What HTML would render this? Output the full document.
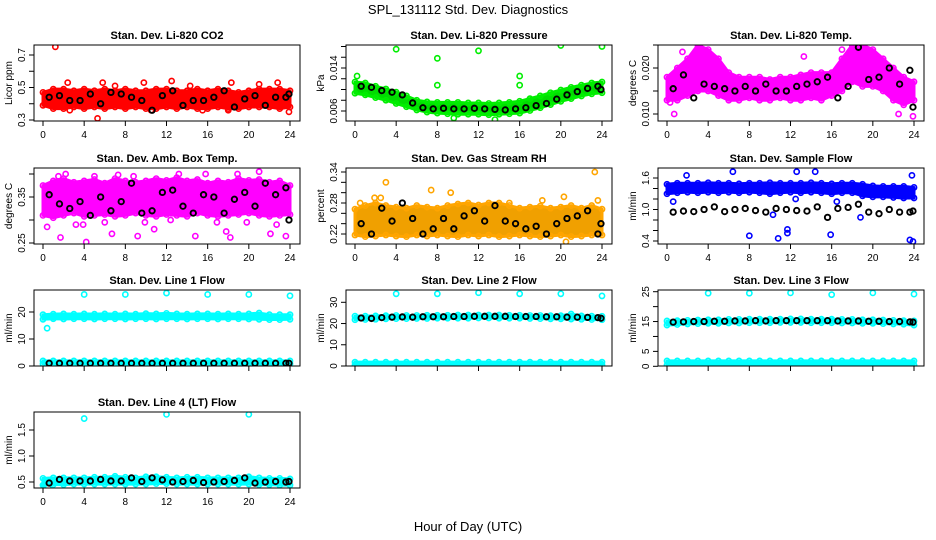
<!DOCTYPE html>
<html><head><meta charset="utf-8"><style>
html,body{margin:0;padding:0;background:#fff;}
svg{display:block;font-family:"Liberation Sans",Arial,sans-serif;}
</style></head><body>
<svg id="chart" width="936" height="540" viewBox="0 0 936 540">
<text x="468" y="14" text-anchor="middle" font-size="13">SPL_131112  Std. Dev. Diagnostics</text>
<text x="468" y="531" text-anchor="middle" font-size="13">Hour of Day (UTC)</text>
</svg>
<script>
// ---- shared data ----
const bandHours = [0,1,2,3,4,5,6,7,8,9,10,11,12,13,14,15,16,17,18,19,20,21,22,23,24];
const blackHours = [0.6,1.6,2.6,3.6,4.6,5.6,6.6,7.6,8.6,9.6,10.6,11.6,12.6,13.6,14.6,15.6,16.6,17.6,18.6,19.6,20.6,21.6,22.6,23.6,23.9];
const xTicks = [0,4,8,12,16,20,24];

// CO2
const co2Lo = [0.39,0.37,0.37,0.38,0.37,0.38,0.37,0.38,0.37,0.38,0.37,0.37,0.38,0.37,0.38,0.37,0.37,0.38,0.37,0.37,0.38,0.38,0.38,0.37,0.38];
const co2Hi = [0.47,0.49,0.49,0.48,0.49,0.48,0.49,0.48,0.49,0.48,0.48,0.49,0.49,0.48,0.48,0.49,0.48,0.49,0.48,0.47,0.48,0.49,0.49,0.49,0.48];
const co2Black = [0.44,0.45,0.42,0.42,0.46,0.40,0.47,0.46,0.44,0.42,0.36,0.45,0.48,0.39,0.42,0.42,0.44,0.48,0.38,0.43,0.45,0.39,0.44,0.44,0.46];
const co2Out = [[1.2,0.75],[5.3,0.31],[23.9,0.35],[12.5,0.54],[2.4,0.53],[5.8,0.53],[9.8,0.53],[18.3,0.53],[22.8,0.53],[2.6,0.36],[10.5,0.36],[15.5,0.36],[18,0.36],[7,0.51],[14.3,0.51],[21,0.52]];
// Pressure
const presLo = [0.0093,0.0090,0.0085,0.0080,0.0074,0.0068,0.0062,0.0058,0.0056,0.0055,0.0054,0.0054,0.0054,0.0053,0.0054,0.0055,0.0056,0.0061,0.0066,0.0072,0.0078,0.0083,0.0088,0.0092,0.0094];
const presHi = [0.0114,0.0112,0.0106,0.0101,0.0095,0.0088,0.0080,0.0077,0.0076,0.0076,0.0076,0.0075,0.0075,0.0074,0.0075,0.0076,0.0078,0.0083,0.0088,0.0094,0.0099,0.0104,0.0108,0.0112,0.0114];
const presBlack = [0.0106,0.0104,0.0098,0.0095,0.0090,0.0075,0.0066,0.0064,0.0065,0.0064,0.0064,0.0065,0.0064,0.0063,0.0062,0.0064,0.0066,0.0070,0.0074,0.0082,0.0090,0.0096,0.0102,0.0106,0.0100];
const presOut = [[0.2,0.0125],[4,0.0175],[8,0.0158],[12,0.0172],[16,0.0125],[20,0.0182],[24,0.0180],[8,0.0108],[16,0.0108],[9.6,0.0047],[13.6,0.0044]];
// Li-820 Temp
const tempLo = [0.013,0.013,0.014,0.015,0.015,0.014,0.013,0.013,0.0135,0.013,0.013,0.0135,0.013,0.013,0.0135,0.013,0.014,0.015,0.017,0.016,0.016,0.015,0.013,0.012,0.013];
const tempHi = [0.018,0.020,0.022,0.025,0.024,0.022,0.019,0.018,0.018,0.018,0.0175,0.018,0.018,0.0185,0.019,0.019,0.019,0.022,0.025,0.025,0.024,0.022,0.020,0.018,0.017];
const tempBlack = [0.0155,0.0185,0.0135,0.0165,0.0160,0.0155,0.0150,0.0160,0.0150,0.0165,0.0150,0.0150,0.0160,0.0165,0.0170,0.0180,0.0135,0.0160,0.0245,0.0175,0.0180,0.0200,0.0165,0.0195,0.0115];
const tempOut = [[0.7,0.0100],[23.9,0.0095],[0.3,0.0125],[22.5,0.0100],[1.5,0.0235],[13.3,0.0225],[17,0.0240]];
// Amb Box Temp
const ambLo = [0.31,0.305,0.31,0.315,0.308,0.31,0.312,0.308,0.31,0.315,0.31,0.308,0.312,0.31,0.308,0.315,0.31,0.308,0.31,0.312,0.315,0.31,0.308,0.31,0.312];
const ambHi = [0.375,0.385,0.39,0.382,0.385,0.388,0.38,0.39,0.385,0.382,0.385,0.39,0.386,0.392,0.385,0.388,0.38,0.385,0.382,0.39,0.386,0.388,0.382,0.385,0.375];
const ambBlack = [0.355,0.335,0.325,0.34,0.31,0.35,0.32,0.34,0.38,0.315,0.32,0.36,0.365,0.33,0.315,0.355,0.35,0.315,0.345,0.36,0.33,0.38,0.355,0.37,0.30];
const ambOut = [[0.4,0.285],[1.7,0.262],[4.2,0.252],[6.7,0.27],[9.2,0.265],[14.8,0.265],[17.8,0.275],[18.2,0.262],[22.1,0.27],[23.6,0.265],[1.5,0.395],[7.3,0.398],[15.8,0.40],[21,0.405],[10.8,0.28],[3.2,0.29],[12.4,0.30],[2.2,0.40],[5,0.395],[8.8,0.395],[13.2,0.40],[18.9,0.40],[3.9,0.29],[6,0.295],[9.9,0.295],[16.9,0.295],[19.8,0.295],[22.7,0.29]];
// Gas Stream RH
const rhLo = [0.218,0.215,0.216,0.218,0.216,0.215,0.218,0.216,0.218,0.216,0.215,0.218,0.216,0.218,0.215,0.216,0.218,0.216,0.215,0.216,0.218,0.215,0.216,0.218,0.218];
const rhHi = [0.268,0.275,0.28,0.275,0.272,0.27,0.275,0.272,0.27,0.275,0.278,0.28,0.276,0.28,0.28,0.275,0.27,0.272,0.274,0.27,0.272,0.275,0.27,0.275,0.268];
const rhBlack = [0.24,0.22,0.27,0.245,0.28,0.25,0.22,0.23,0.25,0.23,0.255,0.265,0.245,0.275,0.245,0.24,0.23,0.235,0.22,0.24,0.25,0.255,0.265,0.22,0.24];
const rhOut = [[3,0.32],[7.4,0.305],[9.3,0.30],[23.3,0.34],[20.3,0.292],[0.5,0.28],[20.5,0.205],[1.9,0.29],[2.5,0.29],[15,0.28],[18.2,0.285],[23.6,0.285]];
// Sample Flow
const flowLo = [1.30,1.32,1.33,1.32,1.33,1.32,1.33,1.32,1.33,1.32,1.30,1.32,1.33,1.32,1.33,1.32,1.30,1.32,1.32,1.26,1.24,1.24,1.23,1.22,1.22];
const flowHi = [1.48,1.50,1.50,1.50,1.51,1.50,1.50,1.49,1.50,1.50,1.51,1.50,1.50,1.50,1.51,1.50,1.49,1.50,1.50,1.48,1.45,1.44,1.44,1.44,1.42];
const flowBlack = [0.95,0.97,0.96,1.0,1.05,0.96,1.0,1.02,0.98,0.95,1.02,1.0,0.98,0.97,1.05,0.85,1.02,1.04,1.1,0.95,0.92,1.0,0.95,0.95,0.97];
const flowOut = [[8,0.50],[10.8,0.45],[11.7,0.55],[11.7,0.62],[15.9,0.52],[18.8,0.85],[23.6,0.42],[23.9,0.39],[6.4,1.72],[12.6,1.72],[14.4,1.72],[1.9,1.65],[23.8,1.65],[10.3,0.90],[12.5,1.20],[0.6,1.15],[16.5,1.15]];
// Line 1
const l1Lo = [17.3,17.5,17.4,17.5,17.5,17.4,17.5,17.5,17.4,17.5,17.5,17.4,17.5,17.5,17.4,17.5,17.5,17.4,17.5,17.5,17.4,17.3,17.2,17.2,17.3];
const l1Hi = [19.0,19.2,19.3,19.2,19.3,19.2,19.3,19.2,19.3,19.2,19.4,19.3,19.5,19.3,19.2,19.3,19.3,19.2,19.3,19.2,19.3,19.6,19.0,19.0,19.0];
const l1LoB = [0.8,0.8,0.8,0.8,0.8,0.8,0.8,0.8,0.8,0.8,0.8,0.8,0.8,0.8,0.8,0.8,0.8,0.8,0.8,0.8,0.8,0.8,0.8,0.8,0.8];
const l1HiB = [1.9,1.9,1.9,1.9,1.9,1.9,1.9,1.9,1.9,1.9,1.9,1.9,1.9,1.9,1.9,1.9,1.9,1.9,1.9,1.9,1.9,1.9,1.9,1.9,1.9];
const l1Black = [1.0,1.0,1.0,1.0,1.0,1.0,1.0,1.0,1.0,1.0,1.0,1.0,1.0,1.0,1.0,1.0,1.0,1.0,1.0,1.0,1.0,1.0,1.0,1.0,1.0];
const l1Out = [[4,26.5],[8,26.5],[12,27],[16,26.5],[20,26.5],[24,26],[0.4,14]];
// Line 2
const l2Lo = [21.8,21.9,22.0,22.2,22.3,22.3,22.4,22.4,22.5,22.5,22.5,22.5,22.6,22.6,22.5,22.5,22.5,22.4,22.3,22.2,22.2,22.1,22.0,21.9,21.8];
const l2Hi = [23.5,23.5,23.6,23.7,23.8,23.8,23.8,23.9,23.9,23.9,24.0,24.0,24.0,24.0,24.0,23.9,23.9,23.8,23.8,23.7,23.7,24.5,23.6,23.5,23.4];
const l2LoB = [0.5,0.5,0.5,0.5,0.5,0.5,0.5,0.5,0.5,0.5,0.5,0.5,0.5,0.5,0.5,0.5,0.5,0.5,0.5,0.5,0.5,0.5,0.5,0.5,0.5];
const l2HiB = [1.8,1.8,1.8,1.8,1.8,1.8,1.8,1.8,1.8,1.8,1.8,1.8,1.8,1.8,1.8,1.8,1.8,1.8,1.8,1.8,1.8,1.8,1.8,1.8,1.8];
const l2Black = [22.6,22.4,22.8,23.0,23.1,23.0,23.2,23.2,23.2,23.3,23.3,23.4,23.4,23.4,23.4,23.3,23.3,23.3,23.2,23.2,23.0,23.0,22.9,22.8,22.5];
const l2Out = [[4,34],[8,34],[12,34.5],[16,34],[20,34],[24,33]];
// Line 3
const l3Lo = [13.8,14.0,14.2,14.3,14.4,14.4,14.5,14.5,14.6,14.6,14.6,14.7,14.7,14.7,14.6,14.6,14.6,14.5,14.5,14.4,14.4,14.3,14.2,14.1,13.8];
const l3Hi = [15.2,15.3,15.4,15.5,15.6,15.6,15.7,15.7,15.8,15.8,15.8,15.8,15.9,15.9,15.8,15.8,15.8,15.7,15.7,15.6,15.6,15.5,15.4,15.3,15.2];
const l3LoB = [0.4,0.4,0.4,0.4,0.4,0.4,0.4,0.4,0.4,0.4,0.4,0.4,0.4,0.4,0.4,0.4,0.4,0.4,0.4,0.4,0.4,0.4,0.4,0.4,0.4];
const l3HiB = [1.8,1.8,1.8,1.8,1.8,1.8,1.8,1.8,1.8,1.8,1.8,1.8,1.8,1.8,1.8,1.8,1.8,1.8,1.8,1.8,1.8,1.8,1.8,1.8,1.8];
const l3Black = [14.8,14.9,15.0,15.0,15.1,15.1,15.2,15.2,15.3,15.2,15.3,15.3,15.3,15.3,15.3,15.3,15.2,15.2,15.2,15.1,15.1,15.0,15.0,14.9,14.8];
const l3Out = [[4,24.5],[8,24.5],[12,24.6],[16,24],[20,24.6],[24,24.2]];
// Line 4
const l4Lo = [0.44,0.45,0.45,0.46,0.46,0.46,0.46,0.46,0.46,0.46,0.46,0.47,0.47,0.46,0.46,0.46,0.46,0.46,0.46,0.46,0.46,0.45,0.45,0.44,0.44];
const l4Hi = [0.57,0.58,0.58,0.58,0.58,0.59,0.59,0.61,0.59,0.58,0.60,0.60,0.59,0.58,0.59,0.59,0.58,0.58,0.58,0.58,0.60,0.58,0.57,0.57,0.56];
const l4Black = [0.48,0.55,0.52,0.52,0.52,0.55,0.52,0.52,0.58,0.51,0.58,0.54,0.50,0.51,0.53,0.49,0.50,0.51,0.53,0.58,0.48,0.50,0.51,0.50,0.51];
const l4Out = [[4,1.72],[12,1.80],[20,1.80],[0.5,0.40],[0.1,0.45]];

// ---- panel layout ----
const panels = [
 {id:'co2', title:'Stan. Dev. Li-820 CO2', ylab:'Licor ppm', c:0,r:0, col:'#ff0000', fill:'#ff0000', v0:0.3,y0:120,v1:0.7,y1:55, ticks:[0.3,0.4,0.5,0.6,0.7], labels:[0.3,0.5,0.7], dec:1, bands:[[co2Lo,co2Hi]], black:co2Black, out:co2Out, xl:true},
 {id:'pressure', title:'Stan. Dev. Li-820 Pressure', ylab:'kPa', c:1,r:0, col:'#00ee00', fill:'#00dd00', v0:0.006,y0:111,v1:0.014,y1:68, ticks:[0.006,0.008,0.010,0.012,0.014,0.016,0.018], labels:[0.006,0.014], dec:3, bands:[[presLo,presHi]], black:presBlack, out:presOut, xl:true},
 {id:'li820-temp', title:'Stan. Dev. Li-820 Temp.', ylab:'degrees C', c:2,r:0, col:'#ff00ff', fill:'#ff00ff', v0:0.010,y0:114,v1:0.020,y1:68, ticks:[0.010,0.015,0.020,0.025], labels:[0.010,0.020], dec:3, bands:[[tempLo,tempHi]], black:tempBlack, out:tempOut, xl:true},
 {id:'amb-box-temp', title:'Stan. Dev. Amb. Box Temp.', ylab:'degrees C', c:0,r:1, col:'#ff00ff', fill:'#ff00ff', v0:0.25,y0:243,v1:0.35,y1:197, ticks:[0.25,0.30,0.35,0.40], labels:[0.25,0.35], dec:2, bands:[[ambLo,ambHi]], black:ambBlack, out:ambOut, xl:true},
 {id:'gas-rh', title:'Stan. Dev. Gas Stream RH', ylab:'percent', c:1,r:1, col:'#ffa500', fill:'#f0a000', v0:0.22,y0:234,v1:0.34,y1:172, ticks:[0.22,0.24,0.26,0.28,0.30,0.32,0.34], labels:[0.22,0.28,0.34], dec:2, bands:[[rhLo,rhHi]], black:rhBlack, out:rhOut, xl:true},
 {id:'sample-flow', title:'Stan. Dev. Sample Flow', ylab:'ml/min', c:2,r:1, col:'#0000ff', fill:'#0000ff', v0:0.4,y0:241,v1:1.6,y1:178, ticks:[0.4,0.6,0.8,1.0,1.2,1.4,1.6], labels:[0.4,1.0,1.6], dec:1, bands:[[flowLo,flowHi]], black:flowBlack, out:flowOut, xl:true},
 {id:'line1-flow', title:'Stan. Dev. Line 1 Flow', ylab:'ml/min', c:0,r:2, col:'#00ffff', fill:'#00ffff', v0:0,y0:366,v1:20,y1:312, ticks:[0,10,20], labels:[0,10,20], dec:0, bands:[[l1Lo,l1Hi],[l1LoB,l1HiB]], black:l1Black, out:l1Out, xl:false},
 {id:'line2-flow', title:'Stan. Dev. Line 2 Flow', ylab:'ml/min', c:1,r:2, col:'#00ffff', fill:'#00ffff', v0:0,y0:366,v1:30,y1:302.3, ticks:[0,10,20,30], labels:[0,10,20,30], dec:0, bands:[[l2Lo,l2Hi],[l2LoB,l2HiB]], black:l2Black, out:l2Out, xl:false},
 {id:'line3-flow', title:'Stan. Dev. Line 3 Flow', ylab:'ml/min', c:2,r:2, col:'#00ffff', fill:'#00ffff', v0:0,y0:366.3,v1:25,y1:291.7, ticks:[0,5,10,15,20,25], labels:[0,5,15,25], dec:0, bands:[[l3Lo,l3Hi],[l3LoB,l3HiB]], black:l3Black, out:l3Out, xl:false},
 {id:'line4-flow', title:'Stan. Dev. Line 4 (LT) Flow', ylab:'ml/min', c:0,r:3, col:'#00ffff', fill:'#00ffff', v0:0.5,y0:482,v1:1.5,y1:430, ticks:[0.5,1.0,1.5], labels:[0.5,1.0,1.5], dec:1, bands:[[l4Lo,l4Hi]], black:l4Black, out:l4Out, xl:true}
];
const rowTops = [45,168,290,412];

const NS='http://www.w3.org/2000/svg';
const svg=document.getElementById('chart');
function mk(tag,attrs,parent){const e=document.createElementNS(NS,tag);for(const k in attrs)e.setAttribute(k,attrs[k]);(parent||svg).appendChild(e);return e;}

panels.forEach(p=>{
  const bx=34+p.c*312, bw=266, by=rowTops[p.r], bh=76;
  const g=mk('g',{});
  
  
  const xs=h=>bx+9+h*(247/24);
  const ys=v=>p.y0+(v-p.v0)*(p.y1-p.y0)/(p.v1-p.v0);
  const clip='clip-'+p.id;
  const cp=mk('clipPath',{id:clip},g); mk('rect',{x:bx,y:by,width:bw,height:bh},cp);
  const plot=mk('g',{'clip-path':'url(#'+clip+')'},g);
  p.bands.forEach((b,bi)=>{
    const lo=b[0],hi=b[1];
    let pts=bandHours.map((h,i)=>xs(h)+','+ys(hi[i]));
    pts=pts.concat(bandHours.slice().reverse().map((h,j)=>{const i=bandHours.length-1-j;return xs(h)+','+ys(lo[i]);}));
    const poly=mk('polygon',{points:pts.join(' '),fill:p.fill,stroke:p.col,'stroke-width':3,'stroke-linejoin':'round'},plot);
    
    
    bandHours.forEach((h,i)=>{
      [lo[i],hi[i]].forEach(v=>{
        const c=mk('circle',{cx:xs(h),cy:ys(v),r:2.6,fill:'none',stroke:p.col,'stroke-width':1.6},plot);
        
        
      });
    });
  });
  p.out.forEach(o=>{
    const c=mk('circle',{cx:xs(o[0]),cy:ys(o[1]),r:2.6,fill:'none',stroke:p.col,'stroke-width':1.6},plot);
    
    
  });
  p.black.forEach((v,i)=>{
    const c=mk('circle',{cx:xs(blackHours[i]),cy:ys(v),r:2.7,fill:'none',stroke:'#000','stroke-width':1.9},plot);
    
    
  });
  const box=mk('rect',{x:bx,y:by,width:bw,height:bh,fill:'none',stroke:'#000','stroke-width':1},g);
  
  
  xTicks.forEach(t=>{
    mk('line',{x1:xs(t),x2:xs(t),y1:by+bh,y2:by+bh+5,stroke:'#000'},g);
    if(p.xl){
      const tx=mk('text',{x:xs(t),y:by+bh+17,'text-anchor':'middle','font-size':10},g);
      tx.textContent=t;
      
      
    }
  });
  p.ticks.forEach(t=>{mk('line',{x1:bx-5,x2:bx,y1:ys(t),y2:ys(t),stroke:'#000'},g);});
  p.labels.forEach(t=>{
    const tx=mk('text',{x:0,y:0,'text-anchor':'middle','font-size':10,transform:'translate('+(bx-9)+','+ys(t)+') rotate(-90)'},g);
    tx.textContent=t.toFixed(p.dec);
    
    
  });
  const yl=mk('text',{x:0,y:0,'text-anchor':'middle','font-size':10,transform:'translate('+(bx-22)+','+(by+bh/2)+') rotate(-90)'},g);
  yl.textContent=p.ylab;
  
  
  const tt=mk('text',{x:bx+bw/2,y:by-6,'text-anchor':'middle','font-size':11,'font-weight':'bold'},g);
  tt.textContent=p.title;
  
  
});
</script>
</body></html>
